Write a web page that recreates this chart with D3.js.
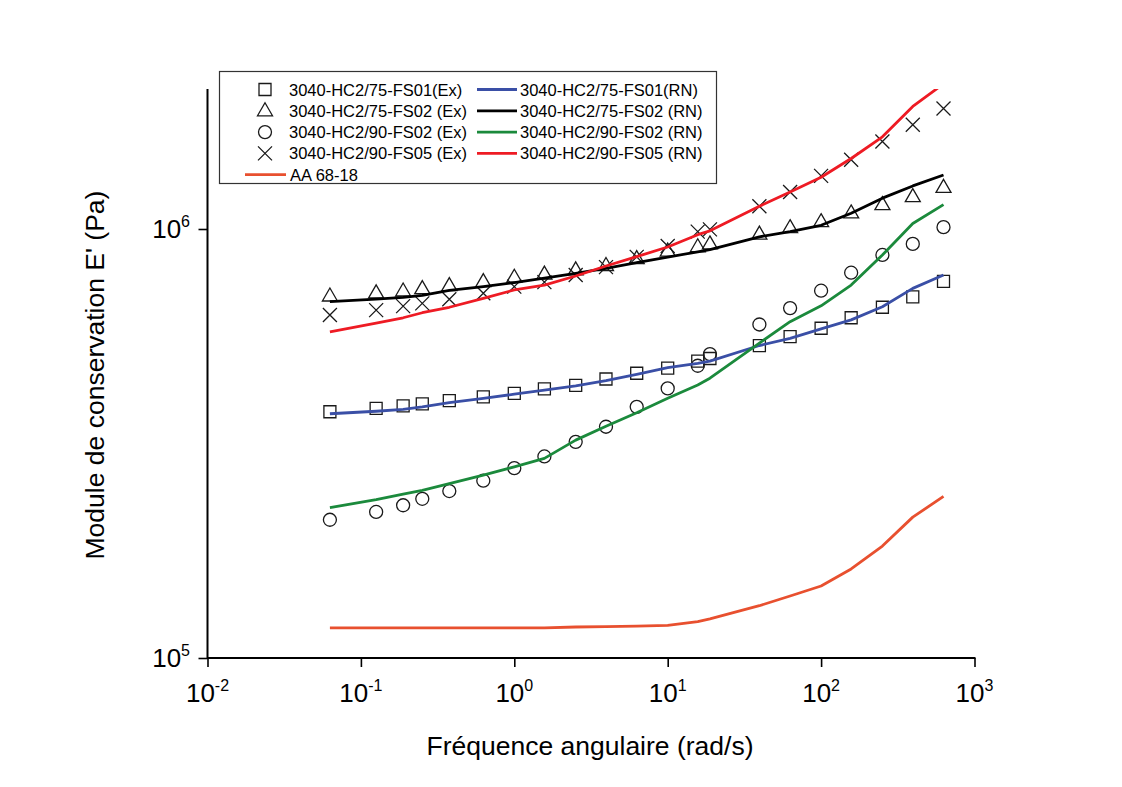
<!DOCTYPE html>
<html><head><meta charset="utf-8">
<script src="https://cdn.jsdelivr.net/npm/d3@7"></script>
<style>body{margin:0;background:#fff;} text{font-family:"Liberation Sans",Arial,sans-serif;fill:#000;}</style>
</head><body><svg id="c" width="1122" height="787"></svg>
<script>
// Angular frequency (rad/s)
const freq = [0.0628, 0.1257, 0.1885, 0.2513, 0.377, 0.628, 1.0, 1.571, 2.513, 3.96, 6.28, 10.0, 15.7, 18.85, 39.6, 62.8, 100, 157, 251, 396, 628];
// Experimental (Ex) storage modulus E' (Pa)
const fs01_75_ex = [3.75e5, 3.82e5, 3.87e5, 3.91e5, 3.98e5, 4.06e5, 4.14e5, 4.24e5, 4.32e5, 4.47e5, 4.61e5, 4.74e5, 4.92e5, 4.99e5, 5.35e5, 5.61e5, 5.87e5, 6.21e5, 6.57e5, 6.95e5, 7.55e5];
const fs02_75_ex = [6.98e5, 7.10e5, 7.17e5, 7.26e5, 7.38e5, 7.54e5, 7.72e5, 7.85e5, 8.03e5, 8.22e5, 8.53e5, 8.88e5, 9.09e5, 9.23e5, 9.73e5, 1.007e6, 1.04e6, 1.09e6, 1.14e6, 1.19e6, 1.25e6];
const fs02_90_ex = [2.10e5, 2.19e5, 2.27e5, 2.35e5, 2.45e5, 2.59e5, 2.77e5, 2.95e5, 3.19e5, 3.46e5, 3.85e5, 4.25e5, 4.80e5, 5.11e5, 5.99e5, 6.54e5, 7.18e5, 7.91e5, 8.70e5, 9.23e5, 1.01e6];
const fs05_90_ex = [6.30e5, 6.47e5, 6.61e5, 6.71e5, 6.86e5, 7.08e5, 7.34e5, 7.52e5, 7.81e5, 8.15e5, 8.61e5, 9.13e5, 9.86e5, 9.98e5, 1.13e6, 1.22e6, 1.33e6, 1.45e6, 1.60e6, 1.75e6, 1.91e6];
// Neural network (RN) predictions
const fs01_75_rn = [3.71e5, 3.76e5, 3.80e5, 3.85e5, 3.94e5, 4.03e5, 4.12e5, 4.21e5, 4.31e5, 4.43e5, 4.58e5, 4.75e5, 4.86e5, 4.92e5, 5.35e5, 5.56e5, 5.85e5, 6.14e5, 6.59e5, 7.27e5, 7.81e5];
const fs02_75_rn = [6.77e5, 6.86e5, 6.93e5, 7.00e5, 7.19e5, 7.34e5, 7.50e5, 7.68e5, 7.88e5, 8.10e5, 8.35e5, 8.60e5, 8.85e5, 8.95e5, 9.59e5, 9.86e5, 1.02e6, 1.088e6, 1.18e6, 1.26e6, 1.336e6];
const fs02_90_rn = [2.24e5, 2.34e5, 2.41e5, 2.46e5, 2.55e5, 2.67e5, 2.79e5, 2.92e5, 3.22e5, 3.47e5, 3.73e5, 4.03e5, 4.33e5, 4.49e5, 5.42e5, 6.08e5, 6.62e5, 7.40e5, 8.70e5, 1.03e6, 1.14e6];
const fs05_90_rn = [5.76e5, 6.03e5, 6.21e5, 6.38e5, 6.57e5, 6.89e5, 7.21e5, 7.40e5, 7.77e5, 8.20e5, 8.62e5, 9.08e5, 9.70e5, 9.90e5, 1.13e6, 1.22e6, 1.32e6, 1.46e6, 1.64e6, 1.93e6, 2.18e6];
// Reference bitumen
const aa_68_18 = [1.175e5, 1.175e5, 1.175e5, 1.175e5, 1.175e5, 1.175e5, 1.175e5, 1.176e5, 1.181e5, 1.184e5, 1.187e5, 1.192e5, 1.215e5, 1.233e5, 1.324e5, 1.395e5, 1.472e5, 1.613e5, 1.824e5, 2.13e5, 2.38e5];

const xDecades = [-2, -1, 0, 1, 2, 3];
const yDecades = [5, 6];
const xTitle = "Fréquence angulaire (rad/s)";
const yTitle = "Module de conservation E' (Pa)";

const markerSeries = [
  {name: "3040-HC2/75-FS01(Ex)", values: fs01_75_ex, shape: "square"},
  {name: "3040-HC2/75-FS02 (Ex)", values: fs02_75_ex, shape: "triangle"},
  {name: "3040-HC2/90-FS02 (Ex)", values: fs02_90_ex, shape: "circle"},
  {name: "3040-HC2/90-FS05 (Ex)", values: fs05_90_ex, shape: "cross"}
];
const lineSeries = [
  {name: "3040-HC2/75-FS01(RN)", values: fs01_75_rn, color: "#3a4fa6"},
  {name: "3040-HC2/75-FS02 (RN)", values: fs02_75_rn, color: "#000000"},
  {name: "3040-HC2/90-FS02 (RN)", values: fs02_90_rn, color: "#1b8a3c"},
  {name: "3040-HC2/90-FS05 (RN)", values: fs05_90_rn, color: "#ee1b24"},
  {name: "AA 68-18", values: aa_68_18, color: "#e8502f"}
];

const svg = d3.select("#c");
svg.append("rect").attr("width",1122).attr("height",787).attr("fill","#fff");

const x = d3.scaleLog().domain([1e-2, 1e3]).range([207.5, 974.5]);
const y = d3.scaleLog().domain([1e5, 2.12e6]).range([658, 89]);

svg.append("clipPath").attr("id","clip").append("rect")
  .attr("x", x.range()[0]).attr("y", y.range()[1])
  .attr("width", x.range()[1]-x.range()[0]+2).attr("height", y.range()[0]-y.range()[1]);

function shapePath(shape, cx, cy) {
  const p = d3.path();
  if (shape === "square") { p.rect(cx-6, cy-6, 12, 12); }
  else if (shape === "circle") { p.moveTo(cx+6.5, cy); p.arc(cx, cy, 6.5, 0, 2*Math.PI); }
  else if (shape === "triangle") { p.moveTo(cx, cy-8); p.lineTo(cx+7.5, cy+5); p.lineTo(cx-7.5, cy+5); p.closePath(); }
  else if (shape === "cross") { p.moveTo(cx-7, cy-7); p.lineTo(cx+7, cy+7); p.moveTo(cx+7, cy-7); p.lineTo(cx-7, cy+7); }
  return p.toString();
}

// Axes
const minorX = [], minorY = [];
for (let e = -2; e < 3; e++) for (let m = 2; m <= 9; m++) minorX.push(m * Math.pow(10, e));
for (let e = 5; e < 7; e++) for (let m = 2; m <= 9; m++) { const v = m*Math.pow(10,e); if (v <= 2.12e6) minorY.push(v); }

const gx = svg.append("g").attr("transform", `translate(0,${y.range()[0]})`);
gx.call(d3.axisBottom(x).tickValues(minorX).tickSize(5).tickFormat(""));
gx.call(d3.axisBottom(x).tickValues(xDecades.map(e => Math.pow(10,e))).tickSize(9).tickFormat(""));
const gy = svg.append("g").attr("transform", `translate(${x.range()[0]},0)`);
gy.call(d3.axisLeft(y).tickValues(minorY).tickSize(5).tickFormat(""));
gy.call(d3.axisLeft(y).tickValues(yDecades.map(e => Math.pow(10,e))).tickSize(9).tickFormat(""));
gx.selectAll(".domain").remove(); gy.selectAll(".domain").remove();
svg.selectAll(".tick line").attr("stroke","#000").attr("stroke-width",1.6);
svg.append("line").attr("x1", x.range()[0]).attr("x2", x.range()[1]+1).attr("y1", y.range()[0]).attr("y2", y.range()[0]).attr("stroke","#000").attr("stroke-width",2);
svg.append("line").attr("x1", x.range()[0]).attr("x2", x.range()[0]).attr("y1", y.range()[1]).attr("y2", y.range()[0]+1).attr("stroke","#000").attr("stroke-width",2);

// Tick labels with superscripts
xDecades.forEach(e => {
  const t = svg.append("text").attr("x", x(Math.pow(10,e))).attr("y", 702).attr("text-anchor","middle").style("font-size","26px");
  t.append("tspan").text("10");
  t.append("tspan").attr("dy", -11).style("font-size","16px").text(e < 0 ? "-" + Math.abs(e) : String(e));
});
yDecades.forEach(e => {
  const t = svg.append("text").attr("x", 190).attr("y", y(Math.pow(10,e)) + 9).attr("text-anchor","end").style("font-size","26px");
  t.append("tspan").text("10");
  t.append("tspan").attr("dy", -11).style("font-size","16px").text(String(e));
});

// Titles
svg.append("text").attr("x", 590).attr("y", 755).attr("text-anchor","middle").style("font-size","26.5px").text(xTitle);
svg.append("text").attr("transform", `translate(104,375) rotate(-90)`).attr("text-anchor","middle").style("font-size","26.5px").text(yTitle);

const plot = svg.append("g").attr("clip-path","url(#clip)");
// markers
markerSeries.forEach(s => {
  plot.append("g").selectAll("path").data(s.values).join("path")
    .attr("d", (v,i) => shapePath(s.shape, x(freq[i]), y(v)))
    .attr("fill","none").attr("stroke","#1a1a1a").attr("stroke-width",1.3);
});
// lines
const lineGen = d3.line().x((v,i) => x(freq[i])).y(v => y(v));
lineSeries.forEach(s => {
  plot.append("path").attr("d", lineGen(s.values)).attr("fill","none")
    .attr("stroke", s.color).attr("stroke-width", 2.8).attr("stroke-linejoin","round");
});

// Legend
const lg = svg.append("g");
lg.append("rect").attr("x",219.5).attr("y",71.5).attr("width",497).attr("height",112).attr("fill","#fff").attr("stroke","#333").attr("stroke-width",1.2);
const rowY = i => 89.5 + i*21.3;
markerSeries.forEach((s,i) => {
  lg.append("path").attr("d", shapePath(s.shape, 265, rowY(i))).attr("fill","none").attr("stroke","#1a1a1a").attr("stroke-width",1.3);
  lg.append("text").attr("x",289).attr("y",rowY(i)+6).style("font-size","16.5px").text(s.name);
});
lineSeries.slice(0,4).forEach((s,i) => {
  lg.append("line").attr("x1",477).attr("x2",517).attr("y1",rowY(i)).attr("y2",rowY(i)).attr("stroke",s.color).attr("stroke-width",2.8);
  lg.append("text").attr("x",520).attr("y",rowY(i)+6).style("font-size","16.5px").text(s.name);
});
const aa = lineSeries[4];
lg.append("line").attr("x1",245).attr("x2",286).attr("y1",rowY(4)).attr("y2",rowY(4)).attr("stroke",aa.color).attr("stroke-width",2.8);
lg.append("text").attr("x",290).attr("y",rowY(4)+6).style("font-size","16.5px").text(aa.name);
</script></body></html>
